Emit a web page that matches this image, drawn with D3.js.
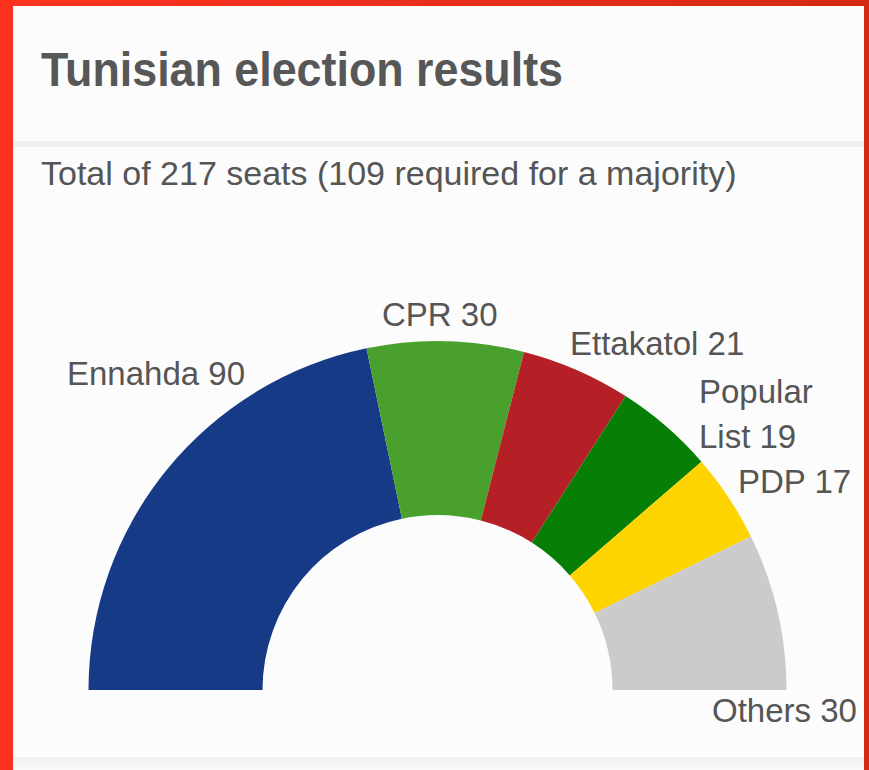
<!DOCTYPE html>
<html>
<head>
<meta charset="utf-8">
<script src="https://cdn.jsdelivr.net/npm/d3@7"></script>
<style>
  html, body { margin: 0; padding: 0; background: #fff; }
  svg { display: block; }
  text { font-family: "Liberation Sans", Arial, Helvetica, sans-serif; fill: #555; }
</style>
</head>
<body>
<svg id="chart" width="869" height="770"></svg>
<script>
// ---- Data ----
const parties = ["Ennahda", "CPR", "Ettakatol", "Popular List", "PDP", "Others"];
const seats   = [90, 30, 21, 19, 17, 30];
const colours = ["#173a87", "#4aa02c", "#b42025", "#077e06", "#fed400", "#cbcbcb"];
const title = "Tunisian election results";
const subtitle = "Total of 217 seats (109 required for a majority)";

// ---- Layout ----
const W = 869, H = 770;
const cx = 437.5, cy = 690, rOuter = 349, rInner = 175;
// label anchor (left x, first baseline y) and line-breaking for each party
const labelLayout = {
  "Ennahda":      { x: 67,  y: 385, lines: d => [d.name + " " + d.value] },
  "CPR":          { x: 382, y: 326, lines: d => [d.name + " " + d.value] },
  "Ettakatol":    { x: 570, y: 355, lines: d => [d.name + " " + d.value] },
  "Popular List": { x: 699, y: 403, lines: d => ["Popular", "List " + d.value] },
  "PDP":          { x: 738, y: 493, lines: d => [d.name + " " + d.value] },
  "Others":       { x: 712, y: 722, lines: d => [d.name + " " + d.value] }
};

const svg = d3.select("#chart");

// red frame
const defs = svg.append("defs");
const grad = defs.append("linearGradient").attr("id", "topRed")
  .attr("x1", 0).attr("x2", 1).attr("y1", 0).attr("y2", 0);
grad.append("stop").attr("offset", 0).attr("stop-color", "#ff3322");
grad.append("stop").attr("offset", 1).attr("stop-color", "#d42a10");
const bandGrad = defs.append("linearGradient").attr("id", "band")
  .attr("x1", 0).attr("x2", 0).attr("y1", 0).attr("y2", 1);
bandGrad.append("stop").attr("offset", 0).attr("stop-color", "#f1f1f3");
bandGrad.append("stop").attr("offset", 1).attr("stop-color", "#fafafa");

svg.append("rect").attr("width", W).attr("height", H).attr("fill", "url(#topRed)");
svg.append("rect").attr("x", 0).attr("y", 0).attr("width", 13).attr("height", H).attr("fill", "#fd2f1f");
svg.append("rect").attr("x", 864).attr("y", 0).attr("width", 5).attr("height", H).attr("fill", "#d02a10");
svg.append("rect").attr("x", 13).attr("y", 6).attr("width", 851).attr("height", H - 6).attr("fill", "#fcfcfc");

// separators
svg.append("rect").attr("x", 13).attr("y", 141).attr("width", 851).attr("height", 6).attr("fill", "#f1f1f3");
svg.append("rect").attr("x", 13).attr("y", 757).attr("width", 851).attr("height", 13).attr("fill", "url(#band)");

// titles
svg.append("text").attr("x", 41).attr("y", 86)
  .attr("font-size", 48).attr("font-weight", "bold")
  .attr("textLength", 522).attr("lengthAdjust", "spacingAndGlyphs")
  .style("fill", "#575757")
  .text(title);
svg.append("text").attr("x", 41).attr("y", 185)
  .attr("font-size", 34)
  .text(subtitle);

// semicircle
const data = parties.map((p, i) => ({ name: p, value: seats[i], colour: colours[i] }));
const pie = d3.pie().value(d => d.value).sort(null)
  .startAngle(-Math.PI / 2).endAngle(Math.PI / 2);
const arc = d3.arc().innerRadius(rInner).outerRadius(rOuter);

const g = svg.append("g").attr("transform", `translate(${cx},${cy})`);
g.selectAll("path").data(pie(data)).join("path")
  .attr("d", arc)
  .attr("fill", d => d.data.colour);

// labels
const lg = svg.append("g");
data.forEach(d => {
  const L = labelLayout[d.name];
  const t = lg.append("text").attr("x", L.x).attr("y", L.y).attr("font-size", 33);
  L.lines(d).forEach((line, i) => {
    t.append("tspan").attr("x", L.x).attr("dy", i === 0 ? 0 : 45).text(line);
  });
});
</script>
</body>
</html>
